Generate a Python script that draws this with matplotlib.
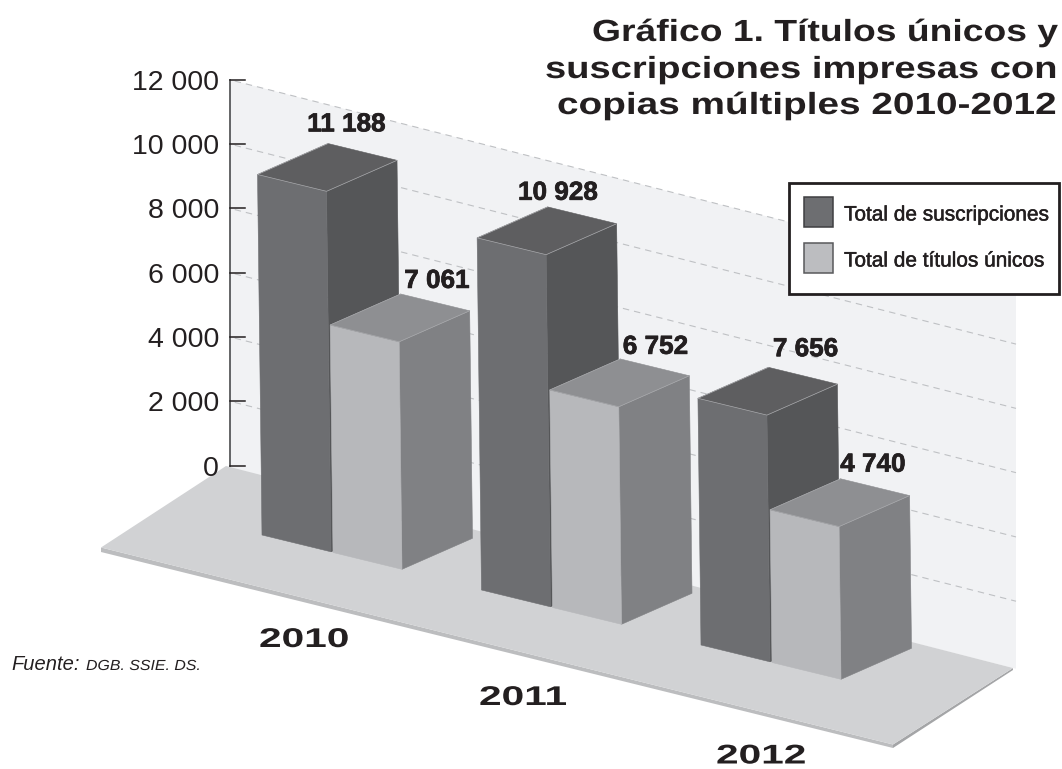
#!/usr/bin/env python3
"""Gráfico 1: pseudo-3D bars drawn on a flat pixel axes through a small oblique projection."""
import matplotlib
matplotlib.use("Agg")
import matplotlib.pyplot as plt
from matplotlib.patches import Polygon, Rectangle
from matplotlib.patheffects import AbstractPathEffect, withStroke
from matplotlib.transforms import Affine2D

years = ["2010", "2011", "2012"]
series = ["Total de suscripciones", "Total de títulos únicos"]
suscripciones = [11188, 10928, 7656]
titulos = [7061, 6752, 4740]
value_labels = [["11 188", "10 928", "7 656"], ["7 061", "6 752", "4 740"]]
y_ticks = [0, 2000, 4000, 6000, 8000, 10000, 12000]
y_tick_labels = ["0", "2 000", "4 000", "6 000", "8 000", "10 000", "12 000"]

plt.rcParams["font.family"] = ["Liberation Sans", "DejaVu Sans"]
INK = "#231f20"

# projection, all in pixels
BAR_O = (262.0, 535.0)      # front-left foot of the first bar
CAT_STEP = (219.5, 55.0)
SER_STEP = (71.0, 17.5)
BAR_W = (69.0, 16.8)
BAR_D = (70.5, -31.0)
PER_UNIT = (-0.0004, -0.03222)
WALL_O = (230.0, 465.5)
WALL_U = (786.0, 200.0)


def bar_pt(cat, ser, w, d, v):
    x = BAR_O[0] + cat * CAT_STEP[0] + ser * SER_STEP[0] + w * BAR_W[0] + d * BAR_D[0] + v * PER_UNIT[0]
    y = BAR_O[1] + cat * CAT_STEP[1] + ser * SER_STEP[1] + w * BAR_W[1] + d * BAR_D[1] + v * PER_UNIT[1]
    return x, y


def wall_pt(u, v):
    return WALL_O[0] + u * WALL_U[0], WALL_O[1] + u * WALL_U[1] + v * PER_UNIT[1] * 0.9975


class Stretch(AbstractPathEffect):
    # wide type: the original face is an extended grotesque
    def __init__(self, sx):
        super().__init__()
        self.sx = sx

    def draw_path(self, renderer, gc, tpath, affine, rgbFace=None):
        renderer.draw_path(gc, tpath, Affine2D().scale(self.sx, 1) + affine, rgbFace)


fig = plt.figure(figsize=(10.62, 7.69), dpi=100)
ax = fig.add_axes([0, 0, 1, 1])
ax.set_xlim(0, 1062)
ax.set_ylim(769, 0)
ax.axis("off")

# back wall, run a little below zero so the floor closes the gap
ax.add_patch(Polygon([wall_pt(0, -100), wall_pt(1, -100), wall_pt(1, 12000), wall_pt(0, 12000)],
                     fc="#f1f2f4", ec="none", zorder=1))
for v in y_ticks[1:]:
    (x0, y0), (x1, y1) = wall_pt(0.006, v), wall_pt(1, v)
    ax.plot([x0, x1], [y0, y1], color="#bfc1c4", lw=0.8, dashes=(5.8, 4.5), zorder=2)

# floor, with its thin front and right edges
FL = [(226, 466), (1013, 668), (893, 744.5), (101, 547.5)]
ax.add_patch(Polygon([FL[3], FL[2], (893, 748), (101, 552)], fc="#bcbdbf", ec="none", zorder=3))
ax.add_patch(Polygon([FL[1], FL[2], (893, 748), (1013, 670)], fc="#a4a5a7", ec="none", zorder=3))
ax.add_patch(Polygon(FL, fc="#d1d2d4", ec="none", zorder=3))

# y axis
xa, ya0 = wall_pt(0, 0)
ax.plot([xa, wall_pt(0, 12000)[0]], [ya0, wall_pt(0, 12000)[1]], color="#58595b", lw=1.3, zorder=4)
for v, lab in zip(y_ticks, y_tick_labels):
    x, y = wall_pt(0, v)
    ax.plot([x, x + 14.5], [y, y], color=INK, lw=1.1, zorder=4)
    ax.text(x - 11, y + 10, lab, ha="right", va="baseline", fontsize=20.5, color=INK, zorder=4)

# bars
COLS = [dict(front="#6d6e71", side="#555658", top="#5e5e60"),
        dict(front="#b7b8bb", side="#808184", top="#8e8f92")]
z = 5
for c in range(len(years)):
    for s, vals in enumerate([suscripciones, titulos]):
        v = vals[c]
        col = COLS[s]
        side = [bar_pt(c, s, 1, 0, 0), bar_pt(c, s, 1, 1, 0), bar_pt(c, s, 1, 1, v), bar_pt(c, s, 1, 0, v)]
        front = [bar_pt(c, s, 0, 0, 0), bar_pt(c, s, 1, 0, 0), bar_pt(c, s, 1, 0, v), bar_pt(c, s, 0, 0, v)]
        top = [bar_pt(c, s, 0, 0, v), bar_pt(c, s, 1, 0, v), bar_pt(c, s, 1, 1, v), bar_pt(c, s, 0, 1, v)]
        ax.add_patch(Polygon(side, fc=col["side"], ec=col["side"], lw=0.4, zorder=z))
        ax.add_patch(Polygon(front, fc=col["front"], ec=col["front"], lw=0.4, zorder=z))
        ax.add_patch(Polygon(top, fc=col["top"], ec=col["top"], lw=0.4, zorder=z))
        ax.plot([top[3][0], top[0][0], top[1][0], top[2][0]], [top[3][1], top[0][1], top[1][1], top[2][1]],
                color="#a9aaad", lw=0.5, zorder=z)
        z += 1

# value labels, nudged from the centre of each bar top
LABEL_NUDGE = [[(19, -36), (11, -31), (38, -35)], [(37, -30), (36, -29), (33, -31)]]
for s, vals in enumerate([suscripciones, titulos]):
    for c, v in enumerate(vals):
        x, y = bar_pt(c, s, 0.5, 0.5, v)
        dx, dy = LABEL_NUDGE[s][c]
        t = ax.text(x + dx, y + dy, value_labels[s][c], ha="center", va="baseline", fontsize=18.8,
                    fontweight="bold", color=INK, zorder=20)
        t.set_path_effects([withStroke(linewidth=0.5, foreground=INK)])

# year labels
YEAR_POS = [(259, 647), (479, 705), (716, 763.5)]
for lab, (x, y) in zip(years, YEAR_POS):
    t = ax.text(x, y, lab, ha="left", va="baseline", fontsize=19.5, fontweight="bold", color=INK, zorder=20)
    t.set_path_effects([Stretch(1.5)])

# title
TITLE = [("Gráfico 1. Títulos únicos y", 592, 41, 1.22),
         ("suscripciones impresas con", 545, 78, 1.247),
         ("copias múltiples 2010-2012", 557, 114, 1.268)]
for line, x, y, sx in TITLE:
    t = ax.text(x, y, line, ha="left", va="baseline", fontsize=22, fontweight="bold", color=INK, zorder=20)
    t.set_path_effects([Stretch(sx)])

# legend box
ax.add_patch(Rectangle((789, 183), 270, 111, fc="white", ec=INK, lw=2.0, zorder=30))
for name, fc, ec, y in zip(series, ["#6d6e71", "#bcbdc0"], ["#3f3f41", "#58595b"], [197, 243]):
    ax.add_patch(Rectangle((803.5, y), 29.5, 30, fc=fc, ec=ec, lw=1.1, zorder=31))
    t = ax.text(844, y + 23.5, name, ha="left", va="baseline", fontsize=15, color=INK, zorder=31)
    t.set_path_effects([withStroke(linewidth=0.35, foreground=INK)])

# source
ax.text(11, 670, "Fuente:", style="italic", fontsize=14.5, color=INK, ha="left", va="baseline")
t = ax.text(86, 670, "DGB. SSIE. DS.", style="italic", fontsize=10.5, color=INK, ha="left", va="baseline")
t.set_path_effects([Stretch(1.09)])

fig.savefig("out.png", dpi=100)
